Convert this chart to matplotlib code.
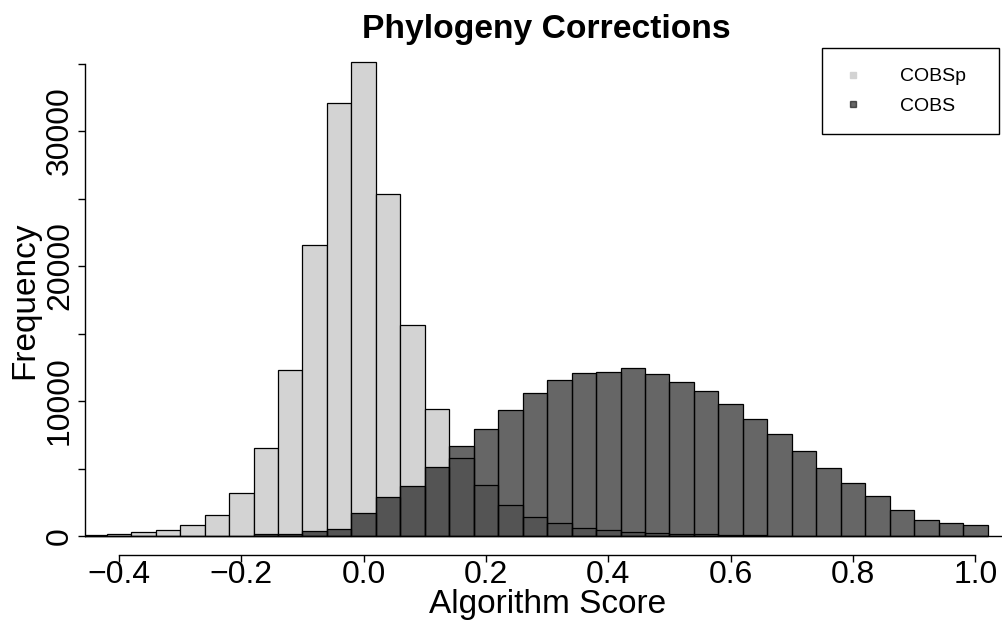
import matplotlib
matplotlib.use("Agg")
import matplotlib.pyplot as plt
from matplotlib.lines import Line2D

plt.rcParams['font.family'] = ['Liberation Sans', 'DejaVu Sans']

# histogram bins (centres, width 0.04) and counts
bin_centers = [-0.44, -0.40, -0.36, -0.32, -0.28, -0.24, -0.20, -0.16, -0.12,
               -0.08, -0.04, 0.00, 0.04, 0.08, 0.12, 0.16, 0.20, 0.24, 0.28,
               0.32, 0.36, 0.40, 0.44, 0.48, 0.52, 0.56, 0.60, 0.64, 0.68,
               0.72, 0.76, 0.80, 0.84, 0.88, 0.92, 0.96, 1.00]
bin_width = 0.04

cobsp = [60, 150, 270, 470, 840, 1555, 3185, 6495, 12300, 21550, 32050, 35090,
         25310, 15630, 9380, 5755, 3750, 2320, 1385, 940, 570, 420, 270, 200,
         150, 120, 90, 60, 40, 25, 15, 10, 5, 0, 0, 0, 0]
cobs = [0, 0, 0, 0, 0, 10, 30, 120, 170, 370, 520, 1680, 2910, 3680, 5090,
        6640, 7950, 9360, 10570, 11530, 12050, 12120, 12470, 11980, 11430,
        10720, 9780, 8640, 7580, 6320, 5010, 3950, 2960, 1900, 1210, 940, 790]

x_ticks = [-0.4, -0.2, 0.0, 0.2, 0.4, 0.6, 0.8, 1.0]
y_ticks = [0, 5000, 10000, 15000, 20000, 25000, 30000, 35000]
y_labels = ['0', '', '10000', '', '20000', '', '30000', '']

light = '#D3D3D3'
dark = (0, 0, 0, 0.6)

fig = plt.figure(figsize=(10.03, 6.22), dpi=100)
ax = fig.add_axes([0.0845, 0.1077, 0.922, 0.8206])

ax.bar(bin_centers, cobsp, width=bin_width, color=light, edgecolor='black',
       linewidth=0.9)
ax.bar(bin_centers, cobs, width=bin_width, color=dark, edgecolor='black',
       linewidth=0.9)
ax.axhline(0, color='black', lw=1.0)

ax.set_xlim(-0.456, 1.056)
ax.set_ylim(-1400, 36400)

for s in ['top', 'right']:
    ax.spines[s].set_visible(False)
ax.spines['left'].set_bounds(0, 35000)
ax.spines['bottom'].set_bounds(-0.4, 1.0)
ax.spines['left'].set_linewidth(1.0)
ax.spines['bottom'].set_linewidth(1.0)

ax.set_xticks(x_ticks)
ax.set_xticklabels([('%.1f' % v).replace('-', '\u2212') for v in x_ticks])
ax.set_yticks(y_ticks)
ax.set_yticklabels(y_labels, rotation=90, va='center')
ax.tick_params(axis='x', length=5, width=1, pad=-1.5, labelsize=23)
ax.tick_params(axis='y', length=5, width=1, pad=2, labelsize=23)

ax.set_xlabel('Algorithm Score', fontsize=24)
ax.xaxis.set_label_coords(0.5, -0.066)
ax.set_ylabel('Frequency', fontsize=24)
ax.yaxis.set_label_coords(-0.0484, 0.5)

fig.text(546.5 / 1003, 1 - 38 / 622, 'Phylogeny Corrections', ha='center',
         va='baseline', fontsize=24.2, fontweight='bold')

handles = [Line2D([], [], marker='s', ls='none', color=light, markersize=5),
           Line2D([], [], marker='s', ls='none', color=dark, markersize=5)]
leg = fig.legend(handles, ['COBSp', 'COBS'], loc='upper left',
                 bbox_to_anchor=(822 / 1003, 1 - 48.3 / 622 - 0.01,
                                 177.5 / 1003, 0.01),
                 mode='expand', fontsize=14, frameon=True, fancybox=False,
                 borderpad=1.0, labelspacing=0.6, handlelength=1.15,
                 handletextpad=1.86, borderaxespad=0)
leg.get_frame().set_edgecolor('black')
leg.get_frame().set_linewidth(1.0)
leg.get_frame().set_alpha(1)

fig.savefig('out.png', dpi=100)
